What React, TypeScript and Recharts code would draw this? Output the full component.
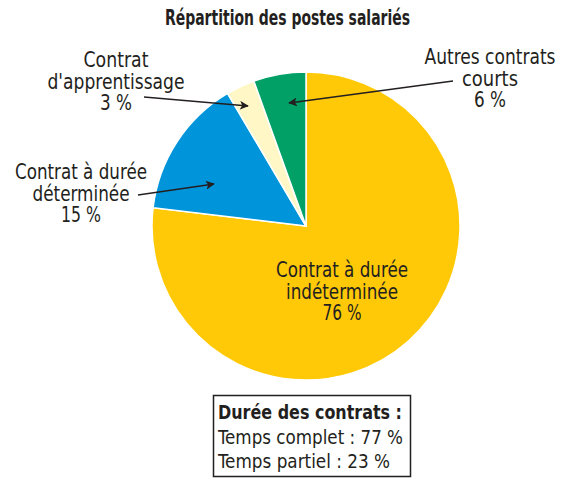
import { PieChart, Pie, Cell } from 'recharts';

// slice shares as measured on the pie (clockwise from 12 o'clock)
const categories = [
  'Contrat à durée indéterminée',
  'Contrat à durée déterminée',
  "Contrat d'apprentissage",
  'Autres contrats courts',
];
const shares = [76.9, 14.6, 3.0, 5.5];
const pctLabels = ['76 %', '15 %', '3 %', '6 %'];
const colors = ['#FFC907', '#0095DA', '#FFF8C6', '#00A066'];

const durationTitle = 'Durée des contrats :';
const durationRows = ['Temps complet : 77 %', 'Temps partiel : 23 %'];

const data = categories.map((name, i) => ({ name, value: shares[i] }));

const INK = '#231F20';
const FONT = '"DejaVu Sans Condensed", "Liberation Sans", sans-serif';

interface LabelSpec {
  lines: string[];
  widths: number[];
  x: number;
  y: number;
  arrow?: [number, number, number, number];
}

const labels: LabelSpec[] = [
  { lines: ['Contrat à durée', 'indéterminée', pctLabels[0]], widths: [132, 112, 39], x: 342, y: 277 },
  { lines: ['Contrat à durée', 'déterminée', pctLabels[1]], widths: [132, 97, 40], x: 81, y: 179, arrow: [138, 195, 214, 184] },
  { lines: ['Contrat', "d'apprentissage", pctLabels[2]], widths: [65, 137, 32], x: 116, y: 67, arrow: [144, 97, 248, 106] },
  { lines: ['Autres contrats', 'courts', pctLabels[3]], widths: [131, 56, 32], x: 490, y: 64, arrow: [453, 81, 289, 103] },
];

function Annotations() {
  return (
    <svg
      width={571}
      height={478}
      style={{ position: 'absolute', left: 0, top: 0, pointerEvents: 'none' }}
      fontFamily={FONT}
    >
      <defs>
        <marker id="head" viewBox="0 0 10 10" refX="9" refY="5" markerWidth="9" markerHeight="9" orient="auto" markerUnits="userSpaceOnUse">
          <path d="M0,0 L10,5 L0,10 L2.5,5 z" fill={INK} />
        </marker>
      </defs>
      <text x={287.5} y={25} textAnchor="middle" fontSize={20.5} fontWeight="bold" fill={INK} textLength={245} lengthAdjust="spacingAndGlyphs">
        Répartition des postes salariés
      </text>
      {labels.map((l, i) => (
        <g key={i}>
          {l.lines.map((s, j) => (
            <text
              key={j}
              x={l.x}
              y={l.y + j * 21.5}
              textAnchor="middle"
              fontSize={20.5}
              fill={INK}
              textLength={l.widths[j]}
              lengthAdjust="spacingAndGlyphs"
            >
              {s}
            </text>
          ))}
          {l.arrow && (
            <line
              x1={l.arrow[0]}
              y1={l.arrow[1]}
              x2={l.arrow[2]}
              y2={l.arrow[3]}
              stroke={INK}
              strokeWidth={1.4}
              markerEnd="url(#head)"
            />
          )}
        </g>
      ))}
      <rect x={213.5} y={395.5} width={197} height={81} fill="#fff" stroke={INK} strokeWidth={1.5} />
      <text x={218} y={419} fontSize={19.5} fontWeight="bold" fill={INK} textLength={184} lengthAdjust="spacingAndGlyphs">
        {durationTitle}
      </text>
      {durationRows.map((r, i) => (
        <text
          key={i}
          x={218}
          y={444 + i * 24}
          fontSize={19.5}
          fill={INK}
          textLength={i === 0 ? 185 : 172}
          lengthAdjust="spacingAndGlyphs"
        >
          {r}
        </text>
      ))}
    </svg>
  );
}

export default function App() {
  return (
    <div style={{ position: 'absolute', left: 0, top: 0, width: 571, height: 478, background: '#fff' }}>
      <PieChart width={571} height={478} margin={{ top: 0, right: 0, bottom: 0, left: 0 }}>
        <Pie
          data={data}
          dataKey="value"
          nameKey="name"
          cx={306}
          cy={226}
          innerRadius={0}
          outerRadius={154}
          startAngle={90}
          endAngle={-270}
          stroke="#fff"
          strokeWidth={1.5}
          isAnimationActive={false}
        >
          {data.map((d, i) => (
            <Cell key={d.name} fill={colors[i]} />
          ))}
        </Pie>
      </PieChart>
      <Annotations />
    </div>
  );
}
